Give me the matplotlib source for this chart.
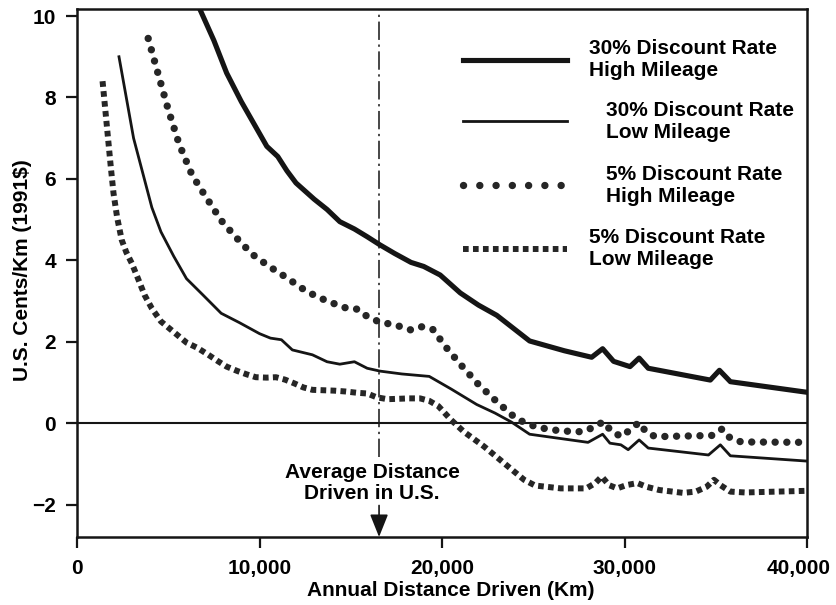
import matplotlib
matplotlib.use("Agg")
import matplotlib.pyplot as plt
from matplotlib.lines import Line2D
from matplotlib.ticker import FuncFormatter
from matplotlib.transforms import ScaledTranslation

plt.rcParams['font.family'] = ['Liberation Sans', 'DejaVu Sans']
plt.rcParams['font.weight'] = 'bold'
plt.rcParams['axes.labelweight'] = 'bold'
plt.rcParams['font.size'] = 15

# --- 30% discount rate, high mileage -------------------------------------
hi30_km = [6700, 7500, 8200, 9000, 9700, 10400, 11000, 11500, 12000, 13000,
           13700, 14400, 15200, 15900, 16600, 17400, 18300, 19000, 19900, 21000,
           22000, 23000, 24800, 26700, 28200, 28800, 29400, 30300, 30800, 31300,
           34700, 35200, 35800, 40000]
hi30_cents = [10.2, 9.4, 8.6, 7.9, 7.35, 6.8, 6.55, 6.2, 5.9, 5.5,
              5.25, 4.95, 4.77, 4.58, 4.38, 4.17, 3.95, 3.85, 3.64, 3.2,
              2.9, 2.65, 2.02, 1.78, 1.62, 1.83, 1.52, 1.39, 1.6, 1.35,
              1.06, 1.3, 1.02, 0.76]

# --- 30% discount rate, low mileage --------------------------------------
lo30_km = [2300, 2700, 3100, 3600, 4100, 4600, 5300, 6000, 6900, 7900,
           8900, 10000, 10600, 11200, 11800, 12900, 13700, 14400, 15200, 15900,
           16600, 17800, 19300, 20500, 21900, 22900, 23800, 24800, 28000, 28800,
           29200, 29800, 30200, 30800, 31300, 34600, 35250, 35800, 40000]
lo30_cents = [9.0, 8.0, 7.0, 6.15, 5.3, 4.7, 4.1, 3.55, 3.15, 2.7,
              2.47, 2.2, 2.09, 2.05, 1.8, 1.68, 1.51, 1.45, 1.51, 1.35,
              1.28, 1.21, 1.15, 0.84, 0.46, 0.25, 0.03, -0.27, -0.47, -0.27,
              -0.49, -0.53, -0.65, -0.41, -0.61, -0.78, -0.53, -0.80, -0.93]

# --- 5% discount rate, high mileage --------------------------------------
hi5_km = [3900, 4400, 5000, 5600, 6300, 7000, 7900, 8700, 9600, 10500,
          11500, 12600, 13700, 14800, 15400, 15900, 16500, 17600, 18300, 18900,
          19500, 20300, 21100, 22000, 23000, 24100, 25200, 26500, 27700, 28300,
          28850, 29300, 29850, 30300, 30800, 31200, 31700, 34800, 35350, 35800,
          36400, 40000]
hi5_cents = [9.45, 8.65, 7.7, 6.85, 6.1, 5.6, 4.98, 4.57, 4.15, 3.86,
             3.57, 3.23, 3.0, 2.82, 2.8, 2.62, 2.5, 2.39, 2.29, 2.37,
             2.3, 1.82, 1.4, 0.95, 0.53, 0.1, -0.1, -0.19, -0.21, -0.1,
             0.04, -0.21, -0.33, -0.16, 0.02, -0.23, -0.33, -0.3, -0.14, -0.37,
             -0.46, -0.47]

# --- 5% discount rate, low mileage ---------------------------------------
lo5_km = [1400, 1550, 1700, 1850, 2000, 2200, 2450, 2700, 3000, 3300,
          3700, 4100, 4600, 5300, 6000, 6600, 7200, 7700, 8200, 8800,
          9300, 9800, 10400, 10900, 11400, 11900, 12400, 12900, 13500, 14100,
          14700, 15300, 15900, 16400, 17000, 17600, 18200, 18800, 19300, 19800,
          20500, 21200, 22300, 23400, 24500, 25100, 26500, 27900, 28400, 28750,
          29150, 29600, 30100, 30700, 31200, 31900, 33200, 33900, 34500, 34900,
          35250, 35800, 36600, 40000]
lo5_cents = [8.4, 7.7, 7.0, 6.3, 5.65, 5.05, 4.5, 4.2, 3.93, 3.6,
             3.15, 2.82, 2.5, 2.24, 1.98, 1.85, 1.68, 1.53, 1.39, 1.28,
             1.2, 1.13, 1.12, 1.13, 1.07, 0.98, 0.88, 0.82, 0.81, 0.8,
             0.78, 0.75, 0.73, 0.64, 0.59, 0.6, 0.61, 0.61, 0.55, 0.42,
             0.08, -0.21, -0.57, -0.98, -1.39, -1.53, -1.6, -1.6, -1.47, -1.31,
             -1.52, -1.6, -1.52, -1.47, -1.56, -1.64, -1.71, -1.68, -1.56, -1.39,
             -1.52, -1.68, -1.7, -1.66]

labels = ["30% Discount Rate\nHigh Mileage",
          "30% Discount Rate\nLow Mileage",
          "5% Discount Rate\nHigh Mileage",
          "5% Discount Rate\nLow Mileage"]

avg_distance = 16550
x_ticks = [0, 10000, 20000, 30000, 40000]
y_ticks = [-2, 0, 2, 4, 6, 8, 10]

fig = plt.figure(figsize=(8.37, 6.05), dpi=100)
ax = fig.add_axes([0.092, 0.1124, 0.8722, 0.8722])
ax.set_xlim(0, 40000)
ax.set_ylim(-2.794, 10.165)

ink = '#151515'
ax.axhline(0, color=ink, lw=1.5, zorder=1)

ax.plot(hi30_km, hi30_cents, color=ink, lw=3.7, zorder=3)
ax.plot(lo30_km, lo30_cents, color=ink, lw=2.0, zorder=3)
ax.plot(hi5_km, hi5_cents, color='#262626', lw=5.3,
        linestyle=(0, (0.01, 1.58)), dash_capstyle='round', zorder=3)
ax.plot(lo5_km, lo5_cents, color='#262626', lw=4.3,
        linestyle=(0, (0.95, 0.72)), dash_capstyle='butt', zorder=3)

# average annual distance marker
ax.plot([avg_distance, avg_distance], [-0.83, 10.165], color=ink, lw=1.1,
        linestyle=(0, (12, 3, 1.5, 3)), zorder=2, clip_on=False)
ax.annotate('', xy=(avg_distance, -2.794), xytext=(avg_distance, -2.02),
            arrowprops=dict(arrowstyle='-|>,head_length=0.7,head_width=0.28',
                            mutation_scale=20, color=ink, lw=1.2,
                            shrinkA=0, shrinkB=0))
ax.text(avg_distance - 380, -1.47, "Average Distance\nDriven in U.S.",
        ha='center', va='center', fontsize=15, linespacing=1.15)

# legend, one block per entry
handles = [
    Line2D([], [], color=ink, lw=3.7),
    Line2D([], [], color=ink, lw=2.0),
    Line2D([], [], color='#262626', lw=5.3, linestyle=(0, (0.01, 2.2)),
           dash_capstyle='round'),
    Line2D([], [], color='#262626', lw=4.3, linestyle=(0, (0.95, 0.72)),
           dash_capstyle='butt'),
]
anchors_y = [0.904, 0.788, 0.667, 0.546]
text_pads = [1.06, 1.87, 1.87, 1.06]
for i, (h, lab) in enumerate(zip(handles, labels)):
    leg = ax.legend(handles=[h], labels=[lab], loc='center left',
                    bbox_to_anchor=(0.5288, anchors_y[i]), frameon=False,
                    borderpad=0, borderaxespad=0, handlelength=5.0,
                    handletextpad=text_pads[i], fontsize=15)
    if i < len(handles) - 1:
        ax.add_artist(leg)

ax.set_xticks(x_ticks)
ax.set_yticks(y_ticks)
ax.xaxis.set_major_formatter(FuncFormatter(lambda v, p: f"{int(v):,}"))
ax.tick_params(axis='both', direction='out', length=8, width=1.6,
               labelsize=15, pad=7, color=ink)
ax.tick_params(axis='x', pad=8)
for s in ax.spines.values():
    s.set_linewidth(1.8)
    s.set_color(ink)

# nudge the rightmost distance label so it stays inside the figure
last_label = ax.xaxis.get_major_ticks()[-1].label1
last_label.set_transform(last_label.get_transform() +
                         ScaledTranslation(-6 / 72, 0, fig.dpi_scale_trans))

ax.set_xlabel("Annual Distance Driven (Km)", fontsize=15, fontweight='bold')
ax.xaxis.set_label_coords(0.512, -0.083)
ax.set_ylabel("U.S. Cents/Km (1991$)", fontsize=15, fontweight='bold')
ax.yaxis.set_label_coords(-0.062, 0.506)

fig.savefig("out.png", dpi=100)
